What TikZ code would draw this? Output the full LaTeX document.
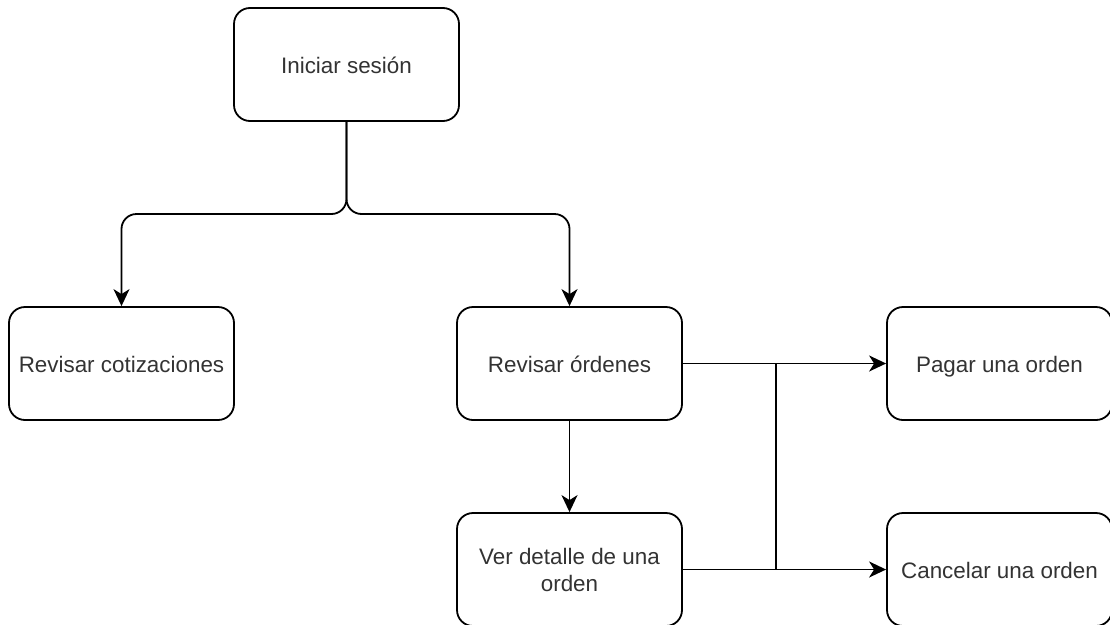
\documentclass[tikz,border=0pt]{standalone}
\usepackage{fontspec}
\setmainfont{Liberation Sans}
\usetikzlibrary{arrows.meta}
\begin{document}
\begin{tikzpicture}[x=1pt,y=-1pt,
  box/.style={draw=black, line width=1.8pt, rounded corners=16pt, fill=white,
    minimum width=225pt, minimum height=113pt, inner sep=2pt, align=center,
    text=black!80, font=\fontsize{22.4}{27}\selectfont},
  oneline/.style={text height=20pt, text depth=2pt},
  conn/.style={draw=black, line width=1.8pt, rounded corners=15pt,
    -{Stealth[length=17pt,width=16pt,inset=5pt]}},
  plain/.style={draw=black, line width=1.8pt}]
\clip (0,0) rectangle (1110,624);
\fill[white] (0,0) rectangle (1110,624);
\node[box,oneline] (ini) at (346.5,64.5) {Iniciar sesión};
\node[box,oneline] (cot) at (121.5,363.5) {Revisar cotizaciones};
\node[box,oneline] (ord) at (569.5,363.5) {Revisar órdenes};
\node[box] (det) at (569.5,569.5) {Ver detalle de una\\orden};
\node[box,oneline] (pag) at (999.5,363.5) {Pagar una orden};
\node[box,oneline] (can) at (999.5,569.5) {Cancelar una orden};
\coordinate (split) at (346.5,214);
\draw[conn] (ini.south) -- (split) -| (cot.north);
\draw[conn] (ini.south) -- (split) -| (ord.north);
\draw[conn] (ord.south) -- (det.north);
\draw[conn] (ord.east) -- (pag.west);
\draw[conn] (det.east) -- (can.west);
\coordinate (j1) at (776,363.5);
\coordinate (j2) at (776,569.5);
\draw[plain] (j1) -- (j2);
\end{tikzpicture}
\end{document}
